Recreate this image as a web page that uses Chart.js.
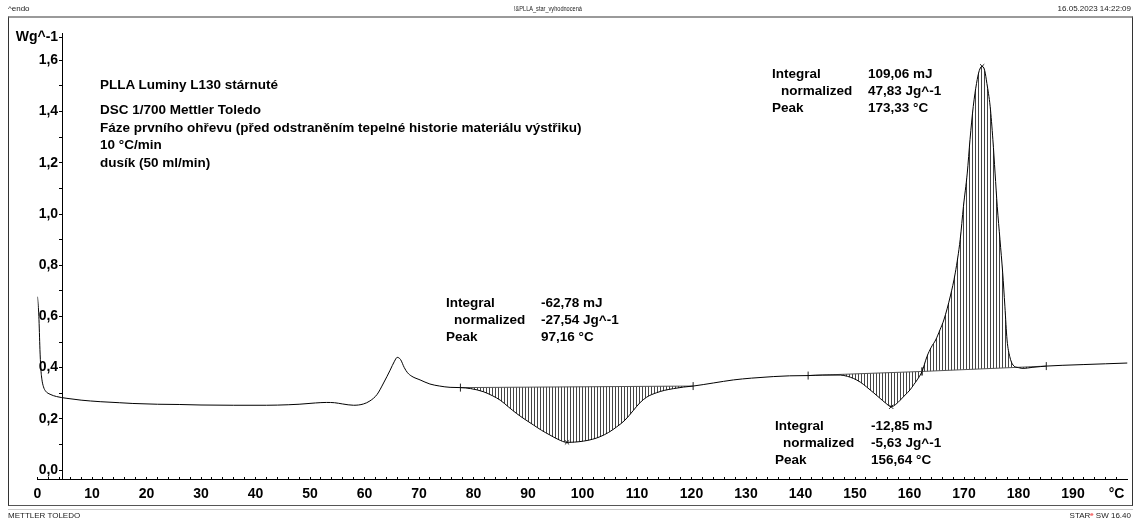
<!DOCTYPE html>
<html>
<head>
<meta charset="utf-8">
<script src="https://cdn.jsdelivr.net/npm/chart.js@4.4.1/dist/chart.umd.min.js"></script>
<style>
  body { margin: 0; background: #fff; }
  #wrap { position: relative; width: 1139px; height: 523px; font-family: "Liberation Sans", Arial, sans-serif; color: #000; overflow: hidden; }
  #frame { position: absolute; left: 8px; top: 16px; width: 1125px; height: 490px; box-sizing: border-box;
           border-left: 1px solid #333; border-right: 1px solid #333; border-top: 2px solid #9a9a9a; border-bottom: 1px solid #555; }
  #underline { position: absolute; left: 8px; top: 509px; width: 1125px; height: 1px; background: #ccc; }
  #chart { position: absolute; left: 0; top: 0; }
  .small { position: absolute; font-size: 8px; line-height: 8px; white-space: nowrap; color: #222; }
  .note { position: absolute; font-size: 13.5px; font-weight: bold; line-height: 17px; white-space: nowrap; }
  .res { position: absolute; font-size: 13.5px; font-weight: bold; line-height: 17px; white-space: nowrap; }
  .res span { position: absolute; left: 0; }
  sup { color: #e00; font-size: 6px; line-height: 0; vertical-align: 2px; }
</style>
</head>
<body>
<div id="wrap">
  <div id="frame"></div>
  <div id="underline"></div>
  <canvas id="chart" width="1139" height="523"></canvas>

  <div class="small" style="left:8px; top:5px;">^endo</div>
  <div class="small" style="left:514px; top:5px; transform:scaleX(0.7); transform-origin:left center;">!&amp;PLLA_star_vyhodnocená</div>
  <div class="small" style="right:8px; top:5px;">16.05.2023 14:22:09</div>
  <div class="small" style="left:8px; top:512px;">METTLER TOLEDO</div>
  <div class="small" style="right:8px; top:512px;">STAR<sup>e</sup> SW 16.40</div>

  <div class="note" style="left:100px; top:76px;">PLLA Luminy L130 stárnuté</div>
  <div class="note" style="left:100px; top:101px; line-height:17.7px;">DSC 1/700 Mettler Toledo<br>Fáze prvního ohřevu (před odstraněním tepelné historie materiálu výstřiku)<br>10 °C/min<br>dusík (50 ml/min)</div>

  <div class="res" style="left:446px; top:294px;">
    <span style="top:0;">Integral</span><span style="top:17px; left:8px;">normalized</span><span style="top:34px;">Peak</span>
    <span style="left:95px; top:0;">-62,78 mJ</span><span style="left:95px; top:17px;">-27,54 Jg^-1</span><span style="left:95px; top:34px;">97,16 °C</span>
  </div>
  <div class="res" style="left:772px; top:65px;">
    <span style="top:0;">Integral</span><span style="top:17px; left:9px;">normalized</span><span style="top:34px;">Peak</span>
    <span style="left:96px; top:0;">109,06 mJ</span><span style="left:96px; top:17px;">47,83 Jg^-1</span><span style="left:96px; top:34px;">173,33 °C</span>
  </div>
  <div class="res" style="left:775px; top:417px;">
    <span style="top:0;">Integral</span><span style="top:17px; left:8px;">normalized</span><span style="top:34px;">Peak</span>
    <span style="left:96px; top:0;">-12,85 mJ</span><span style="left:96px; top:17px;">-5,63 Jg^-1</span><span style="left:96px; top:34px;">156,64 °C</span>
  </div>
</div>

<script>
// DSC curve, temperature in °C, heat flow in W/g
const temps = [
  0, 0.25, 0.45, 0.6, 0.8, 1.1, 1.5, 2.3, 3.5, 5.4, 8, 11.5, 15, 17.5, 22, 26, 30, 36, 42, 46,
  48, 51, 53, 54.5, 56, 58, 59.8, 61, 62.3, 63.5, 64.7, 65.5, 66.0, 66.6, 67.3, 67.9, 68.7, 70.2, 72, 73.8,
  75.7, 77.6, 79.5, 81.8, 83.5, 84.9, 86.5, 87.9, 89.5, 91, 92.5, 94, 95.5, 97.16, 98.5, 100.2, 101.8, 103.2, 104.8, 106.3,
  107.8, 109.3, 110.5, 111.8, 113.6, 115, 116.7, 118.5, 120.3, 124, 127.7, 131, 135, 138, 141.4, 144, 147.3, 148.6, 149.7, 151,
  152.1, 153.4, 154.6, 155.6, 156.64, 157.4, 158.3, 159.2, 160.1, 160.8, 161.4, 162.3, 163.2, 164.0, 164.8, 165.6, 166.3, 167.5, 168.4, 169.3,
  169.9, 170.6, 171.1, 171.7, 172.3, 172.8, 173.33, 173.8, 174.2, 174.8, 175.3, 175.7, 176.1, 176.6, 177.1, 177.5, 177.9, 178.4, 179.0, 180.0,
  180.9, 182.5, 184, 185.1, 188, 192, 196, 200
];
const heatFlow = [
  0.677, 0.60, 0.47, 0.40, 0.355, 0.325, 0.308, 0.296, 0.287, 0.280, 0.273, 0.267, 0.263, 0.260, 0.257, 0.256, 0.254, 0.253, 0.253, 0.255,
  0.257, 0.262, 0.264, 0.263, 0.258, 0.253, 0.258, 0.270, 0.295, 0.340, 0.390, 0.425, 0.440, 0.432, 0.400, 0.380, 0.366, 0.352, 0.336, 0.328,
  0.323, 0.322, 0.318, 0.306, 0.290, 0.273, 0.245, 0.221, 0.197, 0.176, 0.155, 0.137, 0.120, 0.108, 0.109, 0.113, 0.120, 0.130, 0.147, 0.169,
  0.195, 0.232, 0.262, 0.285, 0.302, 0.311, 0.318, 0.324, 0.328, 0.340, 0.352, 0.359, 0.365, 0.368, 0.369, 0.371, 0.371, 0.366, 0.358, 0.343,
  0.325, 0.302, 0.280, 0.262, 0.247, 0.255, 0.273, 0.293, 0.313, 0.334, 0.352, 0.385, 0.443, 0.480, 0.508, 0.548, 0.586, 0.680, 0.770, 0.900,
  1.030, 1.160, 1.290, 1.420, 1.510, 1.560, 1.577, 1.560, 1.510, 1.420, 1.290, 1.160, 1.030, 0.900, 0.770, 0.640, 0.508, 0.443, 0.410, 0.400,
  0.397, 0.401, 0.404, 0.406, 0.409, 0.412, 0.415, 0.418
];

// integration limits and baselines
const limitStartT = [77.6, 141.4, 162.3];
const limitStartW = [0.322, 0.369, 0.385];
const limitEndT = [120.3, 162.3, 185.1];
const limitEndW = [0.328, 0.385, 0.406];

// peak marks
const peakT = [97.16, 156.64, 173.33];
const peakW = [0.108, 0.247, 1.577];

// axes
const xLabelValues = [0, 10, 20, 30, 40, 50, 60, 70, 80, 90, 100, 110, 120, 130, 140, 150, 160, 170, 180, 190, 198];
const xLabels = ['0', '10', '20', '30', '40', '50', '60', '70', '80', '90', '100', '110', '120', '130', '140', '150', '160', '170', '180', '190', '°C'];
const yLabelValues = [0, 0.2, 0.4, 0.6, 0.8, 1.0, 1.2, 1.4, 1.6, 1.69];
const yLabels = ['0,0', '0,2', '0,4', '0,6', '0,8', '1,0', '1,2', '1,4', '1,6', 'Wg^-1'];
const yMin = -0.035;
const yMax = 1.707;

Chart.defaults.font.family = '"Liberation Sans", Arial, sans-serif';
Chart.defaults.color = '#000';

// vertical hatching
const hatchCanvas = document.createElement('canvas');
hatchCanvas.width = 3;
hatchCanvas.height = 8;
const hctx = hatchCanvas.getContext('2d');
hctx.fillStyle = '#444';
hctx.fillRect(0, 0, 1, 8);
const hatch = hctx.createPattern(hatchCanvas, 'repeat');

const curve = temps.map((t, i) => ({ x: t, y: heatFlow[i] }));

const datasets = [{
  data: curve,
  borderColor: '#000',
  borderWidth: 1,
  pointRadius: 0,
  cubicInterpolationMode: 'monotone',
  fill: false
}];

limitStartT.forEach((t0, i) => {
  datasets.push({
    data: [{ x: t0, y: limitStartW[i] }, { x: limitEndT[i], y: limitEndW[i] }],
    borderColor: '#555',
    borderWidth: 1,
    pointRadius: 0,
    fill: false
  });
});

limitStartT.forEach((t0, i) => {
  datasets.push({
    data: curve.filter(p => p.x >= t0 && p.x <= limitEndT[i]),
    borderWidth: 0,
    pointRadius: 0,
    cubicInterpolationMode: 'monotone',
    backgroundColor: hatch,
    fill: 1 + i
  });
});

const limitMarks = [];
limitStartT.forEach((t0, i) => {
  limitMarks.push({ x: t0, y: limitStartW[i] });
  limitMarks.push({ x: limitEndT[i], y: limitEndW[i] });
});
datasets.push({
  data: limitMarks,
  showLine: false,
  pointStyle: 'line',
  rotation: 90,
  pointRadius: 4,
  borderColor: '#222',
  borderWidth: 1
});

datasets.push({
  data: peakT.map((t, i) => ({ x: t, y: peakW[i] })),
  showLine: false,
  pointStyle: 'crossRot',
  pointRadius: 3,
  borderColor: '#222',
  borderWidth: 1
});

const xMinor = [];
for (let v = 0; v <= 198; v += 2) xMinor.push(v);

new Chart(document.getElementById('chart'), {
  type: 'line',
  data: { datasets: datasets },
  options: {
    responsive: false,
    animation: false,
    layout: { padding: { left: 37.5, right: 11.5, top: 33, bottom: 44 } },
    plugins: { legend: { display: false }, tooltip: { enabled: false } },
    scales: {
      x: {
        type: 'linear',
        min: 0,
        max: 200,
        position: { y: yMin },
        afterBuildTicks: (scale) => { scale.ticks = xMinor.map(v => ({ value: v })); },
        ticks: {
          autoSkip: false,
          maxRotation: 0,
          padding: 9.6,
          font: { size: 14, weight: 'bold' },
          callback: (v) => {
            const k = xLabelValues.indexOf(v);
            return k >= 0 ? xLabels[k] : '';
          }
        },
        grid: { drawOnChartArea: false, drawTicks: true, tickLength: -3, color: '#000' },
        border: { display: true, color: '#000', width: 1 }
      },
      y: {
        type: 'linear',
        min: yMin,
        max: yMax,
        position: { x: 4.5 },
        afterBuildTicks: (scale) => {
          const t = [];
          for (let k = 0; k <= 16; k++) t.push({ value: k / 10 });
          t.push({ value: 1.69 });
          scale.ticks = t;
        },
        ticks: {
          autoSkip: false,
          padding: 2,
          font: { size: 14, weight: 'bold' },
          // trailing space keeps the label clear of the axis line
          callback: (v) => {
            const k = yLabelValues.findIndex(y => Math.abs(y - v) < 1e-6);
            return k >= 0 ? yLabels[k] + ' ' : '';
          }
        },
        grid: { drawOnChartArea: false, drawTicks: true, tickLength: 3, color: '#000' },
        border: { display: true, color: '#000', width: 1 }
      }
    }
  }
});
</script>
</body>
</html>
